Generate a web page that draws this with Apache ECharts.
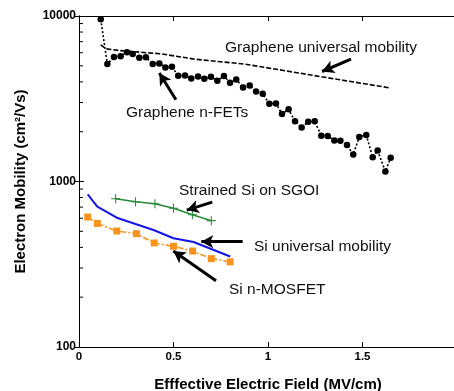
<!DOCTYPE html>
<html>
<head>
<meta charset="utf-8">
<script src="https://cdn.jsdelivr.net/npm/echarts@6/dist/echarts.min.js"></script>
<style>
  html, body { margin: 0; padding: 0; background: #fff; }
  #chart { width: 454px; height: 391px; }
</style>
</head>
<body>
<div id="chart"></div>
<script>
// graphene n-FETs (measured)
const grapheneFetX = [0.115, 0.15, 0.185, 0.22, 0.254, 0.284, 0.319, 0.354, 0.39, 0.425, 0.457, 0.492,
  0.525, 0.561, 0.594, 0.63, 0.663, 0.698, 0.732, 0.767, 0.799, 0.832, 0.868, 0.903, 0.937, 0.972,
  1.007, 1.042, 1.074, 1.109, 1.143, 1.178, 1.213, 1.247, 1.282, 1.316, 1.351, 1.383, 1.418, 1.451,
  1.483, 1.52, 1.554, 1.58, 1.621, 1.649];
const grapheneFetY = [9550, 5120, 5660, 5720, 6040, 5900, 5590, 5640, 5120, 5160, 4890, 4930,
  4350, 4370, 4190, 4310, 4170, 4300, 4060, 4340, 3950, 4130, 3700, 3800, 3500, 3390,
  2950, 2965, 2560, 2730, 2310, 2120, 2300, 2310, 1890, 1885, 1770, 1760, 1660, 1455,
  1860, 1910, 1400, 1540, 1150, 1390];

// graphene universal mobility
const grapheneUniX = [0.115, 0.143, 0.217, 0.438, 0.614, 0.878, 1.275, 1.649];
const grapheneUniY = [6690, 6330, 6180, 5900, 5480, 5120, 4310, 3670];

// Si universal mobility
const siUniX = [0.046, 0.097, 0.2, 0.394, 0.5, 0.606, 0.8];
const siUniY = [835, 704, 604, 509, 454, 431, 352];

// Si n-MOSFET
const siFetX = [0.046, 0.097, 0.2, 0.304, 0.398, 0.5, 0.601, 0.7, 0.8];
const siFetY = [610, 558, 502, 484, 425, 406, 380, 342, 327];

// Strained Si on SGOI
const sgoiX = [0.194, 0.299, 0.402, 0.5, 0.6, 0.7];
const sgoiY = [787, 755, 734, 690, 630, 580];

// minor ticks on the log axis
const minorTicks = [200, 300, 400, 500, 600, 700, 800, 900,
  2000, 3000, 4000, 5000, 6000, 7000, 8000, 9000];

const pair = (xs, ys) => xs.map((x, i) => [x, ys[i]]);

const FONT = "'Liberation Sans', Arial, sans-serif";
const chart = echarts.init(document.getElementById('chart'));

function arrow(from, to) {
  return [{ coord: from, symbol: 'none' }, { coord: to, symbol: 'arrow' }];
}

function label(text, x, y) {
  return {
    type: 'text', x: x, y: y, silent: true,
    style: { text: text, font: '15.5px ' + FONT, fill: '#111', verticalAlign: 'middle' }
  };
}

const option = {
  animation: false,
  grid: { left: 79, top: 16, right: -3, bottom: 44, outerBoundsMode: 'none', containLabel: false },
  xAxis: [
    {
      type: 'value', min: 0, max: 2, interval: 0.5,
      name: 'Efffective Electric Field (MV/cm)',
      nameLocation: 'middle', nameGap: 30,
      nameTextStyle: { fontFamily: FONT, fontWeight: 'bold', fontSize: 15, color: '#000' },
      axisLine: { lineStyle: { color: '#000', width: 1 } },
      axisTick: { inside: true, length: 5, lineStyle: { color: '#000' } },
      axisLabel: { fontFamily: FONT, fontWeight: 'bold', fontSize: 11.5, color: '#000', margin: 4,
        formatter: v => String(v) },
      splitLine: { show: false }
    },
    {
      type: 'value', min: 0, max: 2, interval: 0.5, position: 'top',
      axisLine: { lineStyle: { color: '#000', width: 1 } },
      axisTick: { inside: true, length: 5, lineStyle: { color: '#000' } },
      axisLabel: { show: false },
      splitLine: { show: false }
    }
  ],
  yAxis: [
    {
      type: 'log', logBase: 10, min: 100, max: 10000,
      name: 'Electron Mobility (cm²/Vs)',
      nameLocation: 'middle', nameGap: 51,
      nameTextStyle: { fontFamily: FONT, fontWeight: 'bold', fontSize: 15, color: '#000' },
      axisLine: { show: true, lineStyle: { color: '#000', width: 1 } },
      axisTick: { show: true, inside: true, length: 5, lineStyle: { color: '#000' } },
      axisLabel: { fontFamily: FONT, fontWeight: 'bold', fontSize: 12, color: '#000', margin: 3,
        formatter: v => String(Math.round(v)) },
      splitLine: { show: false }
    },
    {
      type: 'log', logBase: 10, min: 100, max: 10000, position: 'right',
      axisLine: { show: true, lineStyle: { color: '#000', width: 1 } },
      axisTick: { show: true, inside: true, length: 5, lineStyle: { color: '#000' } },
      axisLabel: { show: false },
      splitLine: { show: false }
    }
  ],
  series: [
    {
      type: 'custom',
      silent: true,
      clip: false,
      data: minorTicks.map(v => [0, v]),
      renderItem: function (params, api) {
        const p = api.coord([0, api.value(1)]);
        return {
          type: 'line',
          shape: { x1: p[0], y1: p[1], x2: p[0] + 4, y2: p[1] },
          style: { stroke: '#000', lineWidth: 1 }
        };
      }
    },
    {
      name: 'Graphene universal mobility',
      type: 'line',
      data: pair(grapheneUniX, grapheneUniY),
      showSymbol: false,
      lineStyle: { color: '#000', width: 1.6, type: [5, 2] },
      silent: true
    },
    {
      name: 'Graphene n-FETs',
      type: 'line',
      data: pair(grapheneFetX, grapheneFetY),
      symbol: 'circle', symbolSize: 6.5,
      itemStyle: { color: '#000' },
      lineStyle: { color: '#000', width: 1.6, type: [2, 2] },
      silent: true,
      markLine: {
        silent: true,
        symbolSize: [10, 12],
        label: { show: false },
        lineStyle: { color: '#000', width: 3, type: 'solid' },
        data: [
          arrow([1.439, 5480], [1.286, 4620]),
          arrow([0.513, 3120], [0.425, 4520]),
          arrow([0.705, 750], [0.570, 672]),
          arrow([0.866, 433], [0.647, 433]),
          arrow([0.725, 251], [0.499, 380])
        ]
      }
    },
    {
      name: 'Si universal mobility',
      type: 'line',
      data: pair(siUniX, siUniY),
      showSymbol: false,
      lineStyle: { color: '#1414E6', width: 2 },
      silent: true
    },
    {
      name: 'Si n-MOSFET',
      type: 'line',
      data: pair(siFetX, siFetY),
      symbol: 'rect', symbolSize: 7,
      itemStyle: { color: '#F7941D' },
      lineStyle: { color: '#F7941D', width: 1.6, type: [6, 2, 2, 2] },
      silent: true
    },
    {
      name: 'Strained Si on SGOI',
      type: 'line',
      data: pair(sgoiX, sgoiY),
      symbol: 'path://M0,4.4H10V5.6H0Z M4.4,0H5.6V10H4.4Z', symbolSize: 9,
      itemStyle: { color: '#2A8A3A' },
      lineStyle: { color: '#2A8A3A', width: 1.6 },
      silent: true
    }
  ],
  graphic: [
    label('Graphene universal mobility', 225, 48),
    label('Graphene n-FETs', 126, 113),
    label('Strained Si on SGOI', 179, 191),
    label('Si universal mobility', 254, 247),
    label('Si n-MOSFET', 229, 290)
  ]
};

chart.setOption(option);
</script>
</body>
</html>
